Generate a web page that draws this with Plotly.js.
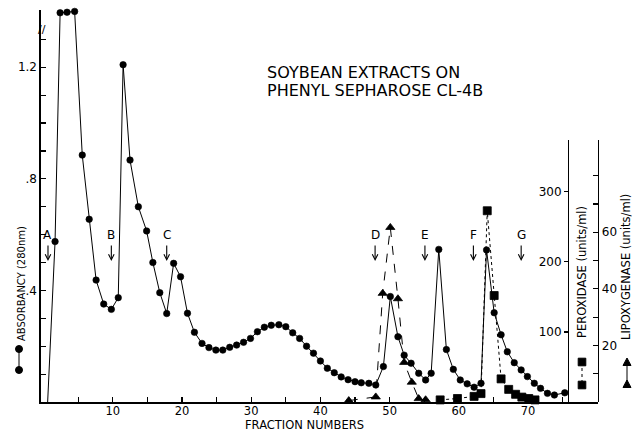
<!DOCTYPE html>
<html>
<head>
<meta charset="utf-8">
<script src="https://cdn.plot.ly/plotly-3.0.1.min.js"></script>
<style>html,body{margin:0;padding:0;background:#fff}</style>
</head>
<body>
<div id="chart" style="width:634px;height:431px"></div>
<script>
// Absorbance (280 nm) – start of elution (no symbol) then circles, solid line
const absStartX = [0.6];
const absStartY = [0];
const absX = [1.67, 2.4, 3.4, 4.5, 5.6, 6.6, 7.6, 8.7, 9.8, 10.8, 11.5, 12.5, 13.7, 14.9, 15.8, 16.8, 17.8, 18.8, 19.8, 20.8, 21.8, 22.9, 23.9, 24.9, 25.9, 26.9, 27.9, 28.9, 29.9, 30.9, 31.9, 32.9, 34.0, 35.0, 36.0, 37.0, 38.0, 39.0, 40.0, 41.0, 42.0, 43.0, 44.0, 45.0, 45.9, 47.0, 48.0, 49.1, 50.1, 51.2, 52.1, 53.1, 54.2, 55.2, 56.0, 57.1, 58.2, 59.2, 60.2, 61.2, 62.2, 63.2, 64.0, 65.1, 66.1, 67.0, 68.0, 69.0, 69.9, 70.9, 71.8, 72.8, 73.8, 75.3];
const absY = [0.575, 1.395, 1.397, 1.40, 0.885, 0.655, 0.437, 0.351, 0.332, 0.374, 1.209, 0.867, 0.70, 0.613, 0.50, 0.392, 0.317, 0.497, 0.449, 0.318, 0.25, 0.21, 0.195, 0.186, 0.186, 0.196, 0.204, 0.214, 0.228, 0.252, 0.268, 0.275, 0.277, 0.27, 0.248, 0.228, 0.20, 0.175, 0.147, 0.121, 0.105, 0.09, 0.08, 0.073, 0.069, 0.067, 0.061, 0.127, 0.378, 0.234, 0.168, 0.139, 0.103, 0.079, 0.103, 0.547, 0.188, 0.117, 0.079, 0.065, 0.053, 0.067, 0.545, 0.32, 0.241, 0.18, 0.141, 0.115, 0.091, 0.067, 0.049, 0.031, 0.025, 0.033];

// Lipoxygenase (units/ml) – triangles, dashed line
const lipX = [44.1, 48.0, 49.0, 50.1, 51.2, 52.1, 53.2, 54.2, 55.2];
const lipY = [0.5, 1.8, 38.4, 61.7, 36.5, 14, 7, 1.2, 0.8];

// Peroxidase (units/ml) – squares, dotted line
const perX = [57.3, 59.8, 62.2, 63.2, 64.1, 65.1, 66.1, 67.2, 68.2, 69.1, 70.1, 71.0];
const perY = [3, 5, 8, 12, 273, 152, 33, 18, 11, 7, 5, 3];

// Fraction markers (arrows)
const markLabels = ['A', 'B', 'C', 'D', 'E', 'F', 'G'];
const markX = [0.65, 9.8, 17.8, 47.9, 55.1, 62.1, 69.0];

// Tick labels
const xTickVals = [5, 10, 15, 20, 25, 30, 35, 40, 45, 50, 55, 60, 65, 70, 75];
const xTickText = ['', '10', '', '20', '', '30', '', '40', '', '50', '', '60', '', '70', ''];
const yTickVals = [0.1, 0.2, 0.3, 0.4, 0.5, 0.6, 0.7, 0.8, 0.9, 1.0, 1.1, 1.2, 1.3];
const yTickText = ['', '', '', '.4', '', '', '', '.8', '', '', '', '1.2', ''];
const perTickVals = [100, 200, 300];
const perTickText = ['100', '200', '300'];
const lipTickVals = [10, 20, 30, 40, 50, 60, 70, 80];
const lipTickText = ['', '20', '', '40', '', '60', '', ''];

const FONT = 'DejaVu Sans, Arial, sans-serif';
const L = 41, R = 598, T = 10, B = 402;
const W = R - L, H = B - T;
const px2x = p => (p - L) / W;
const px2y = p => (B - p) / H;

const traces = [
  {x: absStartX.concat([absX[0]]), y: absStartY.concat([absY[0]]), xaxis: 'x', yaxis: 'y', mode: 'lines',
   line: {color: '#000', width: 1}},
  {x: absX, y: absY, xaxis: 'x', yaxis: 'y', mode: 'lines+markers', cliponaxis: false,
   line: {color: '#000', width: 1},
   marker: {color: '#000', symbol: 'circle', size: 6.5, opacity: 1, line: {color: '#000', width: 0.6}}},
  {x: lipX, y: lipY, xaxis: 'x', yaxis: 'y3', mode: 'lines+markers', cliponaxis: false,
   line: {color: '#000', width: 1, dash: 'dash'},
   marker: {color: '#000', symbol: 'triangle-up', size: 8, line: {color: '#000', width: 0.8}}},
  {x: perX, y: perY, xaxis: 'x', yaxis: 'y2', mode: 'lines+markers', cliponaxis: false,
   line: {color: '#000', width: 1, dash: 'dot'},
   marker: {color: '#000', symbol: 'square', size: 8, line: {color: '#000', width: 0.8}}}
];

const annotations = [];
markLabels.forEach((lab, i) => {
  annotations.push({x: markX[i], xref: 'x', y: px2y(235), yref: 'paper', text: lab, showarrow: false,
    font: {family: FONT, size: 12, color: '#000'}, xanchor: 'center', yanchor: 'middle'});
  annotations.push({x: markX[i], xref: 'x', y: px2y(261), yref: 'paper', text: '', showarrow: true,
    ax: 0, ay: -17, arrowhead: 5, arrowsize: 1, arrowwidth: 1.1, arrowcolor: '#000'});
});
annotations.push({x: px2x(265), xref: 'paper', y: px2y(72), yref: 'paper', xanchor: 'left', yanchor: 'middle',
  text: 'SOYBEAN EXTRACTS ON', showarrow: false, font: {family: FONT, size: 16, color: '#000'}});
annotations.push({x: px2x(265), xref: 'paper', y: px2y(91), yref: 'paper', xanchor: 'left', yanchor: 'middle',
  text: 'PHENYL SEPHAROSE CL-4B', showarrow: false, font: {family: FONT, size: 16, color: '#000'}});
annotations.push({x: px2x(304), xref: 'paper', y: px2y(425), yref: 'paper', xanchor: 'center', yanchor: 'middle',
  text: 'FRACTION NUMBERS', showarrow: false, font: {family: FONT, size: 11.5, color: '#000'}});
annotations.push({x: px2x(21), xref: 'paper', y: px2y(284), yref: 'paper', xanchor: 'center', yanchor: 'middle',
  text: 'ABSORBANCY (280nm)', textangle: -90, showarrow: false, font: {family: FONT, size: 10, color: '#000'}});
annotations.push({x: px2x(582), xref: 'paper', y: px2y(272), yref: 'paper', xanchor: 'center', yanchor: 'middle',
  text: 'PEROXIDASE (units/ml)', textangle: -90, showarrow: false, font: {family: FONT, size: 11.5, color: '#000'}});
annotations.push({x: px2x(626), xref: 'paper', y: px2y(267), yref: 'paper', xanchor: 'center', yanchor: 'middle',
  text: 'LIPOXYGENASE (units/ml)', textangle: -90, showarrow: false, font: {family: FONT, size: 11.5, color: '#000'}});
annotations.push({x: px2x(42), xref: 'paper', y: px2y(30), yref: 'paper', xanchor: 'center', yanchor: 'middle',
  text: '//', showarrow: false, font: {family: FONT, size: 11, color: '#000'}});

function dot(xp, yp, kind) {
  const base = {xref: 'paper', yref: 'paper', xsizemode: 'pixel', ysizemode: 'pixel',
    xanchor: px2x(xp), yanchor: px2y(yp), fillcolor: '#000', line: {color: '#000', width: 1}};
  if (kind === 'circle') return Object.assign(base, {type: 'circle', x0: -3.5, x1: 3.5, y0: -3.5, y1: 3.5});
  if (kind === 'square') return Object.assign(base, {type: 'rect', x0: -3.8, x1: 3.8, y0: -3.8, y1: 3.8});
  return Object.assign(base, {type: 'path', path: 'M-4,-3.5 L4,-3.5 L0,4 Z'});
}
function seg(xp, y0p, y1p, dash) {
  return {type: 'line', xref: 'paper', yref: 'paper', x0: px2x(xp), x1: px2x(xp), y0: px2y(y0p), y1: px2y(y1p),
    line: {color: '#000', width: 1, dash: dash}};
}
const shapes = [
  seg(19, 349, 370, 'solid'), dot(19, 349, 'circle'), dot(19, 370, 'circle'),
  seg(582, 362, 385, 'dot'), dot(582, 362, 'square'), dot(582, 385, 'square'),
  seg(627, 362, 384, 'solid'), dot(627, 362, 'tri'), dot(627, 384, 'tri')
];

const rightDomTop = px2y(140);
const layout = {
  width: 634, height: 431,
  margin: {l: L, r: 634 - R, t: T, b: 431 - B, pad: 0},
  paper_bgcolor: '#fff', plot_bgcolor: 'rgba(0,0,0,0)',
  showlegend: false,
  font: {family: FONT, color: '#000'},
  xaxis: {range: [-0.36, 80.1], showgrid: false, zeroline: false, showline: true, linecolor: '#000', linewidth: 1.6,
    ticks: 'inside', ticklen: 5, tickwidth: 1.2, tickcolor: '#000', tickvals: xTickVals, ticktext: xTickText,
    tickfont: {family: FONT, size: 11.5, color: '#000'}, ticklabelstandoff: -2, anchor: 'y', domain: [0, 1]},
  yaxis: {range: [0, 1.405], showgrid: false, zeroline: false, showline: true, linecolor: '#000', linewidth: 1.6,
    ticks: 'inside', ticklen: 5, tickwidth: 1.2, tickcolor: '#000', tickvals: yTickVals, ticktext: yTickText,
    tickfont: {family: FONT, size: 12, color: '#000'}, domain: [0, 1], anchor: 'x'},
  yaxis2: {range: [0, 374], domain: [0, rightDomTop], anchor: 'free', position: px2x(568), side: 'left',
    showgrid: false, zeroline: false, showline: true, linecolor: '#000', linewidth: 1.4,
    ticks: 'outside', ticklen: 4, tickwidth: 1.2, tickcolor: '#000', tickvals: perTickVals, ticktext: perTickText,
    tickfont: {family: FONT, size: 12, color: '#000'}},
  yaxis3: {range: [0, 92.6], domain: [0, rightDomTop], anchor: 'x', side: 'right',
    showgrid: false, zeroline: false, showline: true, linecolor: '#000', linewidth: 1.4,
    ticks: 'inside', ticklen: 5, tickwidth: 1.2, tickcolor: '#000', tickvals: lipTickVals, ticktext: lipTickText,
    tickfont: {family: FONT, size: 12, color: '#000'}},
  annotations: annotations,
  shapes: shapes
};

Plotly.newPlot('chart', traces, layout, {staticPlot: true, displayModeBar: false});
</script>
</body>
</html>
